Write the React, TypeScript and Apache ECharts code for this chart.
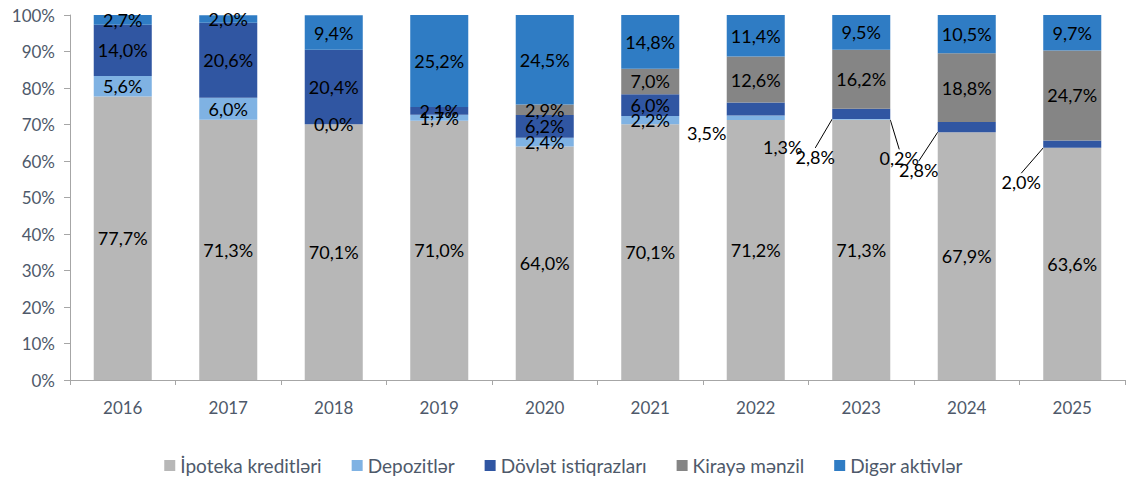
import React, { useEffect, useRef } from 'react';
import * as echarts from 'echarts';

const years = ['2016', '2017', '2018', '2019', '2020', '2021', '2022', '2023', '2024', '2025'];
const ipoteka = [77.7, 71.3, 70.1, 71.0, 64.0, 70.1, 71.2, 71.3, 67.9, 63.6];
const depozit = [5.6, 6.0, 0.0, 1.7, 2.4, 2.2, 1.3, 0.2, null, null];
const dovlet = [14.0, 20.6, 20.4, 2.1, 6.2, 6.0, 3.5, 2.8, 2.8, 2.0];
const kiraye = [null, null, null, null, 2.9, 7.0, 12.6, 16.2, 18.8, 24.7];
const diger = [2.7, 2.0, 9.4, 25.2, 24.5, 14.8, 11.4, 9.5, 10.5, 9.7];
const yTicks = [0, 10, 20, 30, 40, 50, 60, 70, 80, 90, 100];

const seriesNames = ['İpoteka kreditləri', 'Depozitlər', 'Dövlət istiqrazları', 'Kirayə mənzil', 'Digər aktivlər'];
const seriesValues = [ipoteka, depozit, dovlet, kiraye, diger];
const colors = ['#b7b7b7', '#7fb2e3', '#3056a2', '#858585', '#2f7cc4'];

// label offsets (layout, not data)
const labelOffsets: Record<string, { dx: number; dy: number; line: boolean }> = {
  '1|6': { dx: 27, dy: 29, line: true },
  '2|6': { dx: -49, dy: 24, line: false },
  '2|7': { dx: -46, dy: 43, line: true },
  '1|7': { dx: 38, dy: 39, line: true },
  '2|8': { dx: -48, dy: 43, line: true },
  '2|9': { dx: -51, dy: 38, line: true },
};

const FONT = 'Lato, "Liberation Sans", sans-serif';

export default function App() {
  const ref = useRef<HTMLDivElement>(null);
  useEffect(() => {
    if (!ref.current) return;
    const chart = echarts.init(ref.current, undefined, { renderer: 'svg' });
    const fmt = (v: number) => v.toFixed(1).replace('.', ',') + '%';
    chart.setOption({
      animation: false,
      textStyle: { fontFamily: FONT },
      grid: { left: 70, right: 2, top: 15, bottom: 105, containLabel: false },
      legend: {
        bottom: 5,
        left: 'center',
        icon: 'rect',
        itemWidth: 11,
        itemHeight: 11,
        itemGap: 30,
        textStyle: { color: '#4e596a', fontSize: 19, fontFamily: FONT },
        data: seriesNames,
      },
      xAxis: {
        type: 'category',
        data: years,
        axisLine: { show: true, lineStyle: { color: '#a6a6a6', width: 1 } },
        axisTick: { show: true, length: 5, lineStyle: { color: '#a6a6a6' } },
        axisLabel: { color: '#4e596a', fontSize: 17, margin: 19, fontFamily: FONT },
      },
      yAxis: {
        type: 'value',
        min: 0,
        max: 100,
        interval: 10,
        axisLine: { show: true, lineStyle: { color: '#a6a6a6', width: 1 } },
        axisTick: { show: true, length: 6, lineStyle: { color: '#a6a6a6' } },
        splitLine: { show: false },
        axisLabel: {
          color: '#4e596a',
          fontSize: 17,
          margin: 15,
          fontFamily: FONT,
          formatter: (v: number) => (yTicks.includes(v) ? v + '%' : ''),
        },
      },
      series: seriesNames.map((name, si) => ({
        name,
        type: 'bar',
        stack: 'total',
        barWidth: '55%',
        itemStyle: { color: colors[si] },
        label: {
          show: true,
          position: 'inside',
          color: '#000',
          fontSize: 18,
          fontFamily: FONT,
          formatter: (p: any) => (p.value == null ? '' : fmt(p.value)),
        },
        labelLine: { show: false, lineStyle: { color: '#000', width: 1 } },
        labelLayout: (p: any) => {
          const o = labelOffsets[si + '|' + p.dataIndex];
          return o ? { dx: o.dx, dy: o.dy } : {};
        },
        data: seriesValues[si].map((v, di) => {
          const o = labelOffsets[si + '|' + di];
          return o
            ? { value: v, labelLine: { show: o.line, length2: 0, lineStyle: { color: '#000', width: 1 } } }
            : v;
        }),
      })),
    });
    return () => chart.dispose();
  }, []);
  return (
    <div
      ref={ref}
      style={{ position: 'fixed', left: 0, top: 0, width: 1127, height: 485, background: '#fff' }}
    />
  );
}
